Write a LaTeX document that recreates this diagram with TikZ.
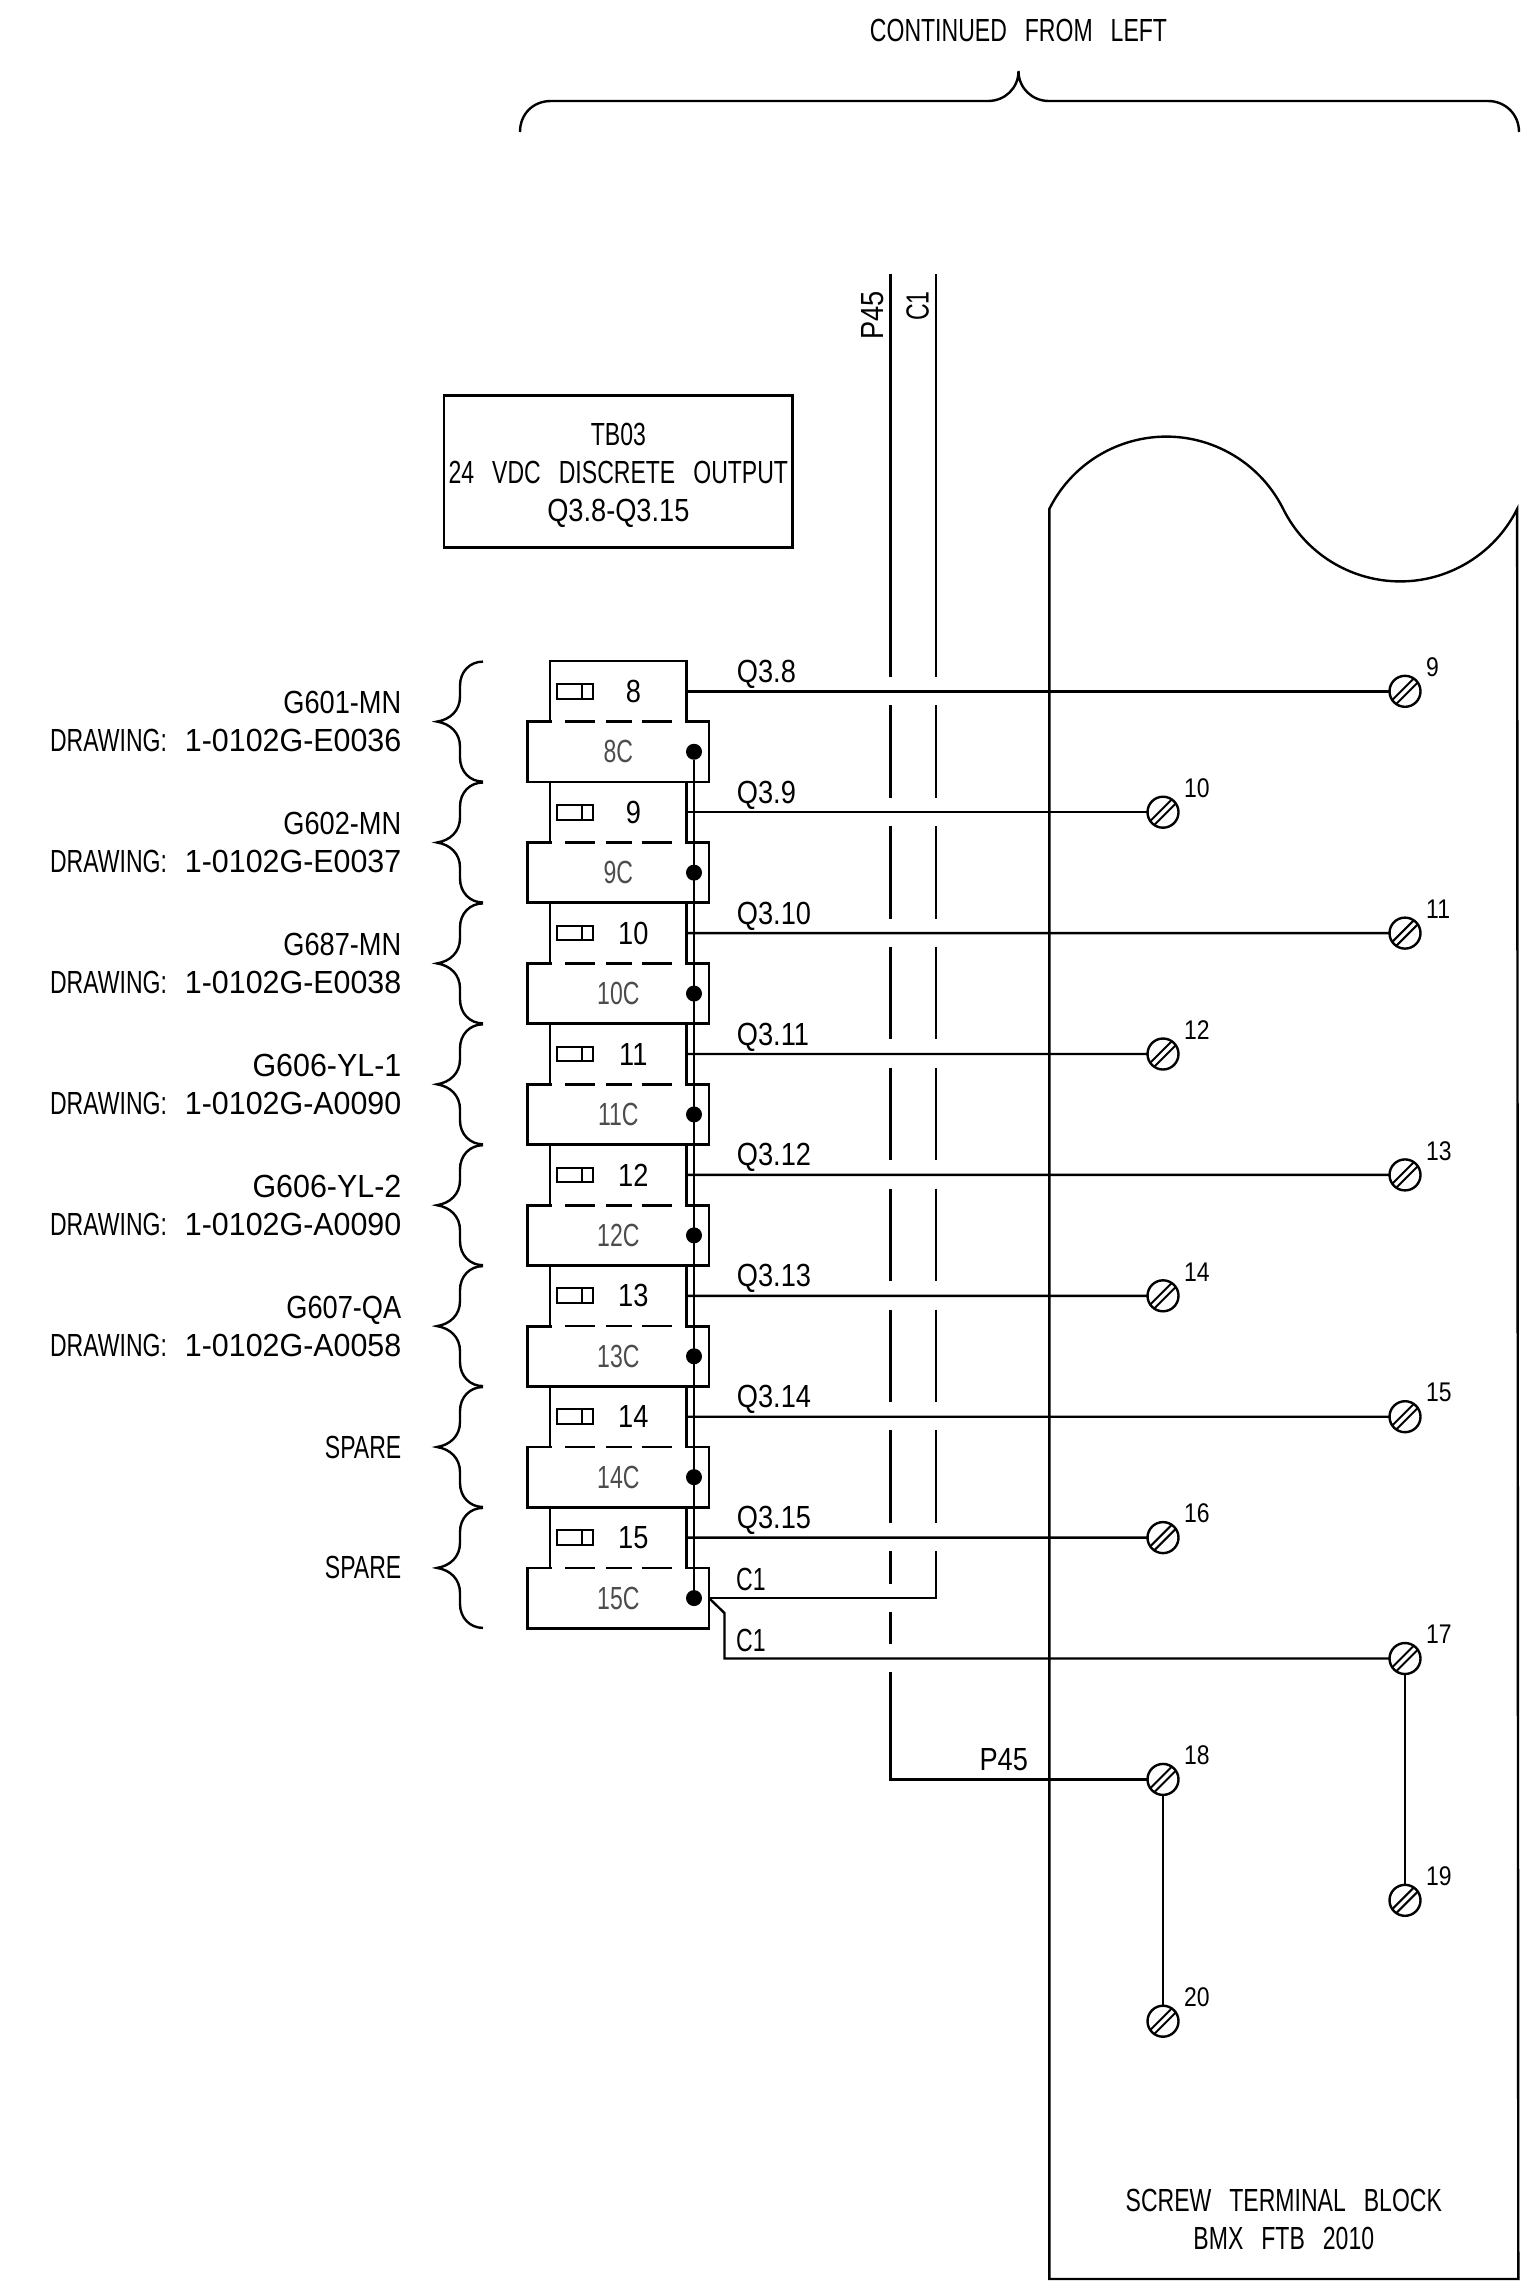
\documentclass[tikz,border=0pt]{standalone}
\usepackage{fontspec}
\usepackage{tikz}
\usetikzlibrary{positioning}

\newfontfamily\cadnarrow[FakeStretch=0.72]{Liberation Sans}
\newfontfamily\cadwide[FakeStretch=0.85]{Liberation Sans}
\newfontfamily\cadfull[FakeStretch=0.95]{Liberation Sans}
\newcommand{\cadword}{\cadnarrow\fontsize{32}{38}\selectfont\spaceskip=18pt\relax}
\newcommand{\cadtext}{\cadwide\fontsize{32}{38}\selectfont\spaceskip=18pt\relax}
\newcommand{\cadsmall}{\cadwide\fontsize{27}{32}\selectfont}

\begin{document}
\begin{tikzpicture}[
    x=1pt, y=-1pt,
    wire/.style={line width=2.4pt},
    upperblock/.style={rectangle, draw=black, line width=2.8pt, minimum width=136.7pt, minimum height=60.6pt, inner sep=0pt, outer sep=0pt},
    lowerblock/.style={rectangle, draw=black, line width=2.8pt, minimum width=181.3pt, minimum height=60.3pt, inner sep=0pt, outer sep=0pt, font=\cadword, text=black!70},
    seam/.style={rectangle, fill=white, minimum width=133.5pt, minimum height=6pt, inner sep=0pt, outer sep=0pt,
        path picture={\draw[line width=2.6pt, dash pattern=on 30pt off 11pt on 25.7pt off 10pt on 30.6pt off 99pt, shorten >=13pt, shorten <=13.4pt] (path picture bounding box.west) -- (path picture bounding box.east);}},
    fuse/.style={rectangle, draw=black, line width=2pt, minimum width=36pt, minimum height=14.7pt, inner sep=0pt, outer sep=0pt,
        path picture={\draw[line width=2pt, shift={(path picture bounding box.west)}] (6.7,-8) -- (6.7,8) (28.7,-8) -- (28.7,8);}},
    blocknum/.style={font=\cadtext, inner sep=0pt},
    dot/.style={circle, fill=black, minimum size=16pt, inner sep=0pt, outer sep=0pt},
    screw/.style={circle, draw=black, line width=2.4pt, fill=white, minimum size=31pt, inner sep=0pt, outer sep=0pt,
        path picture={\draw[line width=2pt, shift={(path picture bounding box.center)}] (-15,11) -- (11,-15) (-11,15) -- (15,-11);}},
    pinnum/.style={font=\cadsmall, inner sep=0pt, anchor=west},
    wirelabel/.style={font=\cadtext, inner sep=0pt, anchor=base west},
    wordlabel/.style={font=\cadword, inner sep=0pt, align=center},
    sidelabel/.style={inner sep=0pt, anchor=east, align=right},
    sidebrace/.pic={\draw[wire] (46,-60) .. controls (33,-60) and (23,-50) .. (23,-36) -- (23,-25) .. controls (23,-11) and (13,-2) .. (0,0) .. controls (13,2) and (23,11) .. (23,25) -- (23,36) .. controls (23,50) and (33,60) .. (46,60);}
]
\useasboundingbox (0,0) rectangle (1527,2292);

% Screw terminal block outline
\draw[wire] (1049.3,2279) -- (1049.3,509) arc[start angle=206.5, end angle=333.5, radius=130.7] arc[start angle=153.5, end angle=26.5, radius=130.7] -- (1518.3,2279) -- cycle;
\node[wordlabel] (panel_name) at (1283.8,2219.5) {SCREW TERMINAL BLOCK\\BMX FTB 2010};

% Continuation brace
\node[wordlabel] (continued) at (1018.5,30.7) {CONTINUED FROM LEFT};
\draw[wire] (520,132) .. controls (520,114) and (533,101) .. (551,101) -- (988,101) .. controls (1005,101) and (1018.5,88) .. (1018.5,71) .. controls (1018.5,88) and (1032,101) .. (1049,101) -- (1488,101) .. controls (1505,101) and (1519,114) .. (1519,132);

% Block 8
\node[upperblock] (term8) at (618.35,691.3) {};
\node[lowerblock] (base8) [below=0pt of term8] {8C};
\node[seam] (seam8) at (term8.south) {};
\node[fuse] (fuse8) [right=7.3pt of term8.west] {};
\node[blocknum] (num8) at ([xshift=15pt]term8.center) {8};
\node[dot] (dot8) [left=7pt of base8.east] {};

% Block 9
\node[upperblock] (term9) [below=0pt of base8] {};
\node[lowerblock] (base9) [below=0pt of term9] {9C};
\node[seam] (seam9) at (term9.south) {};
\node[fuse] (fuse9) [right=7.3pt of term9.west] {};
\node[blocknum] (num9) at ([xshift=15pt]term9.center) {9};
\node[dot] (dot9) [left=7pt of base9.east] {};

% Block 10
\node[upperblock] (term10) [below=0pt of base9] {};
\node[lowerblock] (base10) [below=0pt of term10] {10C};
\node[seam] (seam10) at (term10.south) {};
\node[fuse] (fuse10) [right=7.3pt of term10.west] {};
\node[blocknum] (num10) at ([xshift=15pt]term10.center) {10};
\node[dot] (dot10) [left=7pt of base10.east] {};

% Block 11
\node[upperblock] (term11) [below=0pt of base10] {};
\node[lowerblock] (base11) [below=0pt of term11] {11C};
\node[seam] (seam11) at (term11.south) {};
\node[fuse] (fuse11) [right=7.3pt of term11.west] {};
\node[blocknum] (num11) at ([xshift=15pt]term11.center) {11};
\node[dot] (dot11) [left=7pt of base11.east] {};

% Block 12
\node[upperblock] (term12) [below=0pt of base11] {};
\node[lowerblock] (base12) [below=0pt of term12] {12C};
\node[seam] (seam12) at (term12.south) {};
\node[fuse] (fuse12) [right=7.3pt of term12.west] {};
\node[blocknum] (num12) at ([xshift=15pt]term12.center) {12};
\node[dot] (dot12) [left=7pt of base12.east] {};

% Block 13
\node[upperblock] (term13) [below=0pt of base12] {};
\node[lowerblock] (base13) [below=0pt of term13] {13C};
\node[seam] (seam13) at (term13.south) {};
\node[fuse] (fuse13) [right=7.3pt of term13.west] {};
\node[blocknum] (num13) at ([xshift=15pt]term13.center) {13};
\node[dot] (dot13) [left=7pt of base13.east] {};

% Block 14
\node[upperblock] (term14) [below=0pt of base13] {};
\node[lowerblock] (base14) [below=0pt of term14] {14C};
\node[seam] (seam14) at (term14.south) {};
\node[fuse] (fuse14) [right=7.3pt of term14.west] {};
\node[blocknum] (num14) at ([xshift=15pt]term14.center) {14};
\node[dot] (dot14) [left=7pt of base14.east] {};

% Block 15
\node[upperblock] (term15) [below=0pt of base14] {};
\node[lowerblock] (base15) [below=0pt of term15] {15C};
\node[seam] (seam15) at (term15.south) {};
\node[fuse] (fuse15) [right=7.3pt of term15.west] {};
\node[blocknum] (num15) at ([xshift=15pt]term15.center) {15};
\node[dot] (dot15) [left=7pt of base15.east] {};

% Title box
\node[rectangle, draw=black, line width=2.8pt, minimum width=348.7pt, minimum height=152pt, inner sep=0pt, outer sep=0pt] (tb03) [above=113.3pt of term8] {};
\node[wordlabel] (tb03_text) at ([shift={(0,4)}]tb03.center) {TB03\\24 VDC DISCRETE OUTPUT\\{\cadwide Q3.8-Q3.15}};

% Side braces
\pic at ([xshift=-113pt]term8.south west) {sidebrace};
\pic at ([xshift=-113pt]term9.south west) {sidebrace};
\pic at ([xshift=-113pt]term10.south west) {sidebrace};
\pic at ([xshift=-113pt]term11.south west) {sidebrace};
\pic at ([xshift=-113pt]term12.south west) {sidebrace};
\pic at ([xshift=-113pt]term13.south west) {sidebrace};
\pic at ([xshift=-113pt]term14.south west) {sidebrace};
\pic at ([xshift=-113pt]term15.south west) {sidebrace};

% Side labels
\node[sidelabel, font=\cadtext] (side8) at ([xshift=-148.5pt]term8.south west) {G601-MN\\{\cadnarrow DRAWING:} {\cadfull 1-0102G-E0036}};
\node[sidelabel, font=\cadtext] (side9) at ([xshift=-148.5pt]term9.south west) {G602-MN\\{\cadnarrow DRAWING:} {\cadfull 1-0102G-E0037}};
\node[sidelabel, font=\cadtext] (side10) at ([xshift=-148.5pt]term10.south west) {G687-MN\\{\cadnarrow DRAWING:} {\cadfull 1-0102G-E0038}};
\node[sidelabel, font=\cadtext] (side11) at ([xshift=-148.5pt]term11.south west) {{\cadfull G606-YL-1}\\{\cadnarrow DRAWING:} {\cadfull 1-0102G-A0090}};
\node[sidelabel, font=\cadtext] (side12) at ([xshift=-148.5pt]term12.south west) {{\cadfull G606-YL-2}\\{\cadnarrow DRAWING:} {\cadfull 1-0102G-A0090}};
\node[sidelabel, font=\cadtext] (side13) at ([xshift=-148.5pt]term13.south west) {G607-QA\\{\cadnarrow DRAWING:} {\cadfull 1-0102G-A0058}};
\node[sidelabel, font=\cadword] (side14) at ([xshift=-148.5pt]term14.south west) {SPARE};
\node[sidelabel, font=\cadword] (side15) at ([xshift=-148.5pt]term15.south west) {SPARE};

% Screws
\node[screw] (screw9) at (1405,691.3) {};
\node[screw] (screw10) at (1163,812.2) {};
\node[screw] (screw11) at (1405,933.1) {};
\node[screw] (screw12) at (1163,1054) {};
\node[screw] (screw13) at (1405,1174.9) {};
\node[screw] (screw14) at (1163,1295.8) {};
\node[screw] (screw15) at (1405,1416.7) {};
\node[screw] (screw16) at (1163,1537.6) {};
\node[screw] (screw17) at (1405,1658.5) {};
\node[screw] (screw18) at (1163,1779.4) {};
\node[screw] (screw19) at (1405,1900.3) {};
\node[screw] (screw20) at (1163,2021.2) {};
\node[pinnum] (pin9) at ([shift={(21,-24)}]screw9.center) {9};
\node[pinnum] (pin10) at ([shift={(21,-24)}]screw10.center) {10};
\node[pinnum] (pin11) at ([shift={(21,-24)}]screw11.center) {11};
\node[pinnum] (pin12) at ([shift={(21,-24)}]screw12.center) {12};
\node[pinnum] (pin13) at ([shift={(21,-24)}]screw13.center) {13};
\node[pinnum] (pin14) at ([shift={(21,-24)}]screw14.center) {14};
\node[pinnum] (pin15) at ([shift={(21,-24)}]screw15.center) {15};
\node[pinnum] (pin16) at ([shift={(21,-24)}]screw16.center) {16};
\node[pinnum] (pin17) at ([shift={(21,-24)}]screw17.center) {17};
\node[pinnum] (pin18) at ([shift={(21,-24)}]screw18.center) {18};
\node[pinnum] (pin19) at ([shift={(21,-24)}]screw19.center) {19};
\node[pinnum] (pin20) at ([shift={(21,-24)}]screw20.center) {20};

% Output wires
\draw[wire] (term8) -- (screw9);
\draw[wire] (term9) -- (screw10);
\draw[wire] (term10) -- (screw11);
\draw[wire] (term11) -- (screw12);
\draw[wire] (term12) -- (screw13);
\draw[wire] (term13) -- (screw14);
\draw[wire] (term14) -- (screw15);
\draw[wire] (term15) -- (screw16);
\node[wirelabel] (tag8) at ([shift={(50,-9)}]term8.east) {Q3.8};
\node[wirelabel] (tag9) at ([shift={(50,-9)}]term9.east) {Q3.9};
\node[wirelabel] (tag10) at ([shift={(50,-9)}]term10.east) {Q3.10};
\node[wirelabel] (tag11) at ([shift={(50,-9)}]term11.east) {Q3.11};
\node[wirelabel] (tag12) at ([shift={(50,-9)}]term12.east) {Q3.12};
\node[wirelabel] (tag13) at ([shift={(50,-9)}]term13.east) {Q3.13};
\node[wirelabel] (tag14) at ([shift={(50,-9)}]term14.east) {Q3.14};
\node[wirelabel] (tag15) at ([shift={(50,-9)}]term15.east) {Q3.15};

% Common bus behind the dots
\draw[wire] (dot8) -- (dot15);

% P45 and C1 risers
\coordinate (p45top) at (890.3,274.3);
\coordinate (c1top) at (935.7,274.3);
\coordinate (p45corner) at (p45top |- screw18);
\coordinate (c1corner) at (c1top |- base15.east);
\coordinate (c1bend) at ([shift={(15.5,15)}]base15.east);
\draw[wire, dash pattern=on 402.4pt off 28.3pt on 92.6pt off 28.3pt on 92.6pt off 28.3pt on 92.6pt off 28.3pt on 92.6pt off 28.3pt on 92.6pt off 28.3pt on 92.6pt off 28.3pt on 92.6pt off 28.3pt on 32.7pt off 28.3pt on 31.6pt off 28.3pt on 500pt off 1pt] (p45top) -- (p45corner) -- (screw18);
\draw[wire, dash pattern=on 402.4pt off 28.3pt on 92.6pt off 28.3pt on 92.6pt off 28.3pt on 92.6pt off 28.3pt on 92.6pt off 28.3pt on 92.6pt off 28.3pt on 92.6pt off 28.3pt on 92.6pt off 28.3pt on 500pt off 1pt] (c1top) -- (c1corner) -- (base15.east);
\draw[wire] (base15.east) -- (c1bend) -- (c1bend |- screw17) -- (screw17);
\draw[wire] (screw17) -- (screw19);
\draw[wire] (screw18) -- (screw20);
\node[wirelabel, font=\cadword] (tagc1a) at ([shift={(27,-8)}]base15.east) {C1};
\node[wirelabel, font=\cadword] (tagc1b) at ([shift={(27,53)}]base15.east) {C1};
\node[wirelabel] (tagp45) at ([shift={(89,-9)}]p45corner) {P45};
\node[wirelabel, rotate=90, anchor=base east] (riser_p45) at ([shift={(-6.5,17)}]p45top) {P45};
\node[wirelabel, font=\cadword, rotate=90, anchor=base east] (riser_c1) at ([shift={(-7,17)}]c1top) {C1};

\end{tikzpicture}
\end{document}
